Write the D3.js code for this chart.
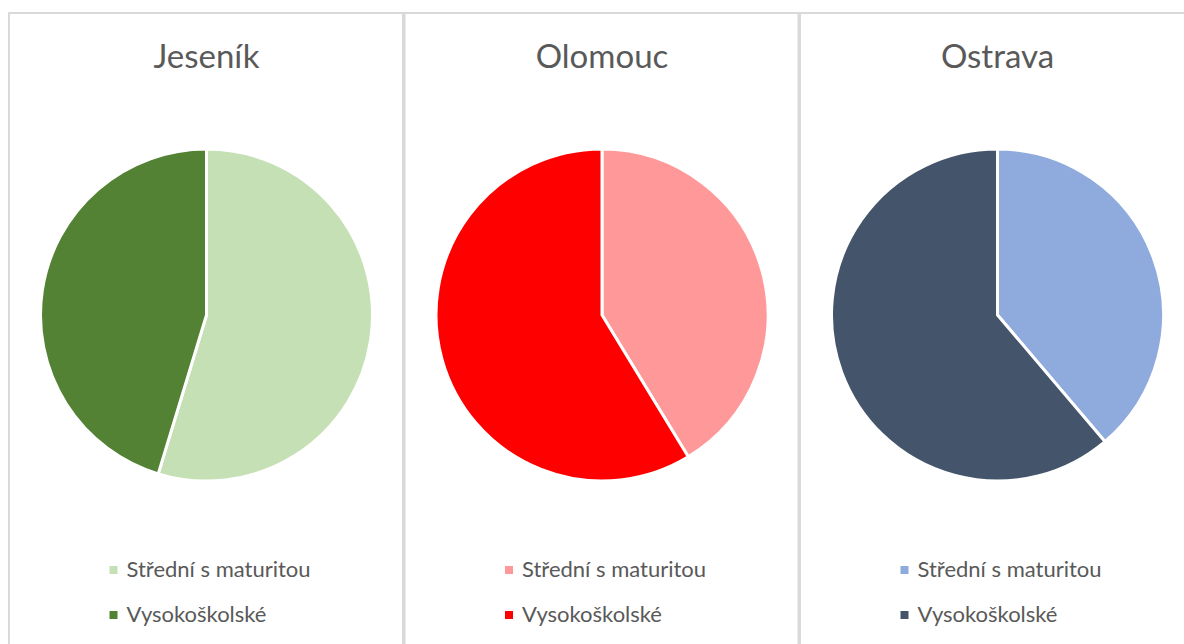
<!DOCTYPE html>
<html>
<head>
<meta charset="utf-8">
<script src="https://cdn.jsdelivr.net/npm/d3@7"></script>
<style>
  body { margin: 0; background: #fff; }
  svg { display: block; }
</style>
</head>
<body>
<div id="chart"></div>
<script>
// data (shares in %)
const cities = ['Jeseník', 'Olomouc', 'Ostrava']
const categories = ['Střední s maturitou', 'Vysokoškolské']
const stredni = [54.7, 41.3, 38.8]
const vysokoskolske = [45.3, 58.7, 61.2]
const lightColors = ['#C5E0B4', '#FF9999', '#8FAADC']
const darkColors = ['#548235', '#FF0000', '#44546A']

const width = 1184
const height = 644
const panelW = 395
const radius = 166
const font = 'Lato, "Open Sans", sans-serif'

const svg = d3.select('#chart').append('svg')
    .attr('width', width)
    .attr('height', height)

//panel positions
const x = d3.scaleLinear().domain([0, 1]).range([9, 9 + panelW + 0.5])

const pie = d3.pie().sort(null).value(d => d.value)
const arc = d3.arc().innerRadius(0).outerRadius(radius)

cities.forEach((city, i) => {
    const left = x(i)
    const cx = left + panelW / 2
    const colors = [lightColors[i], darkColors[i]]
    const data = [stredni[i], vysokoskolske[i]].map((v, k) => ({name: categories[k], value: v}))

    const g = svg.append('g').attr('transform', `translate(${left}, 0)`)

    //panel border
    g.append('rect')
        .attr('x', 0)
        .attr('y', 13)
        .attr('width', panelW - 1)
        .attr('height', height)
        .attr('fill', 'none')
        .attr('stroke', '#d9d9d9')
        .attr('stroke-width', 2)

    //title
    g.append('text')
        .attr('x', panelW / 2)
        .attr('y', 68)
        .attr('text-anchor', 'middle')
        .style('font', `33px ${font}`)
        .attr('fill', '#595959')
        .text(city)

    //pie
    svg.append('g')
        .attr('transform', `translate(${cx}, 315)`)
        .selectAll('path')
        .data(pie(data))
        .join('path')
        .attr('d', arc)
        .attr('fill', (d, k) => colors[k])
        .attr('stroke', '#fff')
        .attr('stroke-width', 3)
        .attr('stroke-linejoin', 'round')

    //legend
    const legend = svg.append('g')
        .attr('transform', `translate(${cx - 97}, 0)`)
        .selectAll('g')
        .data(categories)
        .join('g')
        .attr('transform', (d, k) => `translate(0, ${577 + k * 45})`)

    legend.append('rect')
        .attr('x', 0)
        .attr('y', -11)
        .attr('width', 8)
        .attr('height', 8)
        .attr('fill', (d, k) => colors[k])

    legend.append('text')
        .attr('x', 17)
        .attr('y', 0)
        .style('font', `22px ${font}`)
        .attr('fill', '#595959')
        .text(d => d)
})
</script>
</body>
</html>
